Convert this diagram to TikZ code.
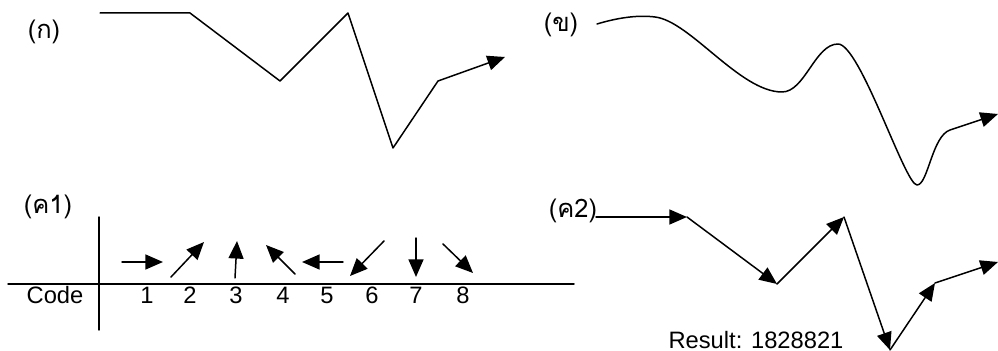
\documentclass[tikz,border=0pt]{standalone}
\usepackage{fontspec}
\setmainfont{Liberation Sans}
\newfontfamily\thaifont[Script=Thai]{Loma}
\usetikzlibrary{arrows.meta}

\begin{document}
\begin{tikzpicture}[x=0.02cm,y=-0.02cm,line cap=round,line join=round,line width=0.85pt,
        >={Triangle[length=10pt,width=8.5pt]},
        font=\fontsize{13.5}{16}\selectfont,
        thai/.style={font=\fontsize{14.5}{16}\selectfont\thaifont}]
    \useasboundingbox (0,0) rectangle (998,351);
    % one pixel of the page is one unit, y runs down
    \node[thai] (lblA) at (44,32) {(ก)};
    \node[thai] (lblB) at (561,25) {(ข)};
    \node[thai] (lblC1) at (48,207) {(ค1)};
    \node[thai] (lblC2) at (573,211) {(ค2)};

    % (ก) the outline as one line
    \draw[->] (100,13) -- (190,13) -- (280,81) -- (348,13) -- (393,148) -- (438,81) -- (505,57);

    % (ข) the smooth outline
    \draw[->] (597,24) .. controls (620,17) and (640,15) .. (655,17)
        .. controls (690,21) and (740,92) .. (782,92)
        .. controls (805,92) and (815,44) .. (838,44)
        .. controls (860,44) and (905,185) .. (917,185)
        .. controls (928,185) and (932,136) .. (950,130) -- (998,114);

    % (ค1) the code table
    \draw (8,284) -- (574,284);
    \draw (99,217) -- (99,330);
    \node (code) at (55,295) {Code};
    \foreach \i/\x in {1/147,2/190,3/236,4/283,5/327,6/372,7/416,8/463}
        \node (d\i) at (\x,295) {\i};
    \foreach \xa/\ya/\xb/\yb in {122/262/163/262, 171/277/204/242, 235/278/237/241,
            295/274/266/245, 343/262/302/262, 384/241/350/276, 416/238/416/277, 443/244/473/273}
        \draw[->] (\xa,\ya) -- (\xb,\yb);

    % (ค2) the outline coded in steps
    \path (596,217) coordinate (c0) (687,217) coordinate (c1) (777,284) coordinate (c2)
          (844,217) coordinate (c3) (890,350) coordinate (c4) (935,283) coordinate (c5)
          (998,262) coordinate (c6);
    \foreach \i [remember=\i as \j (initially 0)] in {1,...,6}
        \draw[->] (c\j) -- (c\i);
    \node[inner sep=0.5pt] (res) at (756,340) {Result: 1828821};
\end{tikzpicture}
\end{document}
